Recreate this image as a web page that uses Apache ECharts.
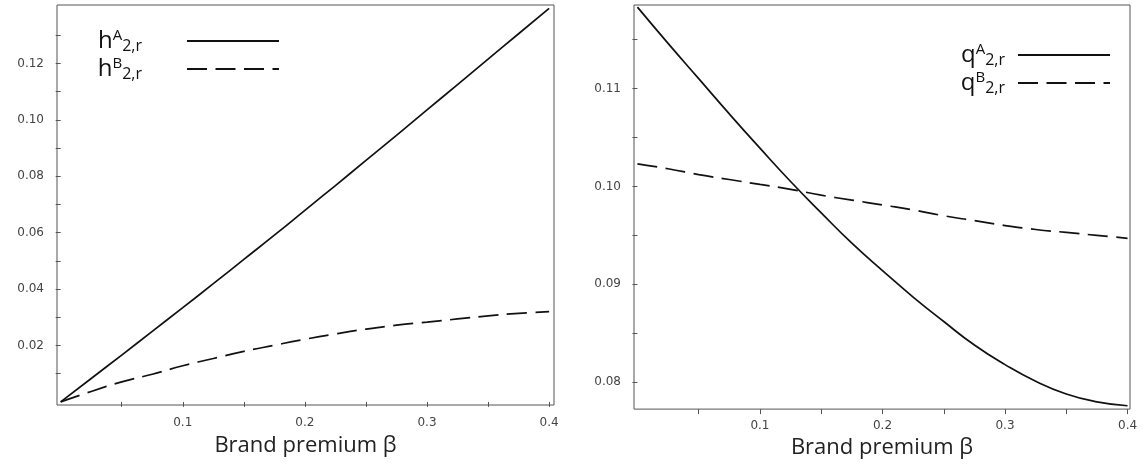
<!DOCTYPE html>
<html lang="en">
<head>
    <meta charset="UTF-8">
    <title>Brand premium</title>
    <style>
        html, body { margin: 0; padding: 0; background: #fff; }
    </style>
</head>
<body>
    <div id="chart" style="width: 1146px;height: 464px"></div>

    <script src="https://cdn.jsdelivr.net/npm/echarts@6.0.0/dist/echarts.min.js"></script>
    <script>
        // beta 取值
        var beta = [0, 0.025, 0.05, 0.075, 0.1, 0.125, 0.15, 0.175, 0.2,
                    0.225, 0.25, 0.275, 0.3, 0.325, 0.35, 0.375, 0.4];

        // 左图
        var hA = [0, 0.0083, 0.0166, 0.025, 0.0334, 0.0419, 0.0505, 0.0591, 0.0679,
                  0.0767, 0.0856, 0.0945, 0.1035, 0.1125, 0.1215, 0.1305, 0.1395];
        var hB = [0, 0.0037, 0.0071, 0.0098, 0.0128, 0.0154, 0.0179, 0.0201, 0.0222,
                  0.0241, 0.0258, 0.0272, 0.0283, 0.0294, 0.0305, 0.0314, 0.0320];

        // 右图
        var qA = [0.1183, 0.1146, 0.1110, 0.1074, 0.1039, 0.1005, 0.0973, 0.0942, 0.0914,
                  0.0887, 0.0862, 0.0838, 0.0818, 0.0801, 0.0788, 0.0780, 0.0776];
        var qB = [0.1023, 0.1018, 0.1012, 0.1007, 0.1002, 0.0997, 0.0991, 0.0986, 0.0981,
                  0.0976, 0.0970, 0.0965, 0.0960, 0.0956, 0.0953, 0.0950, 0.0947];

        // 刻度
        var xTicks = [0.05, 0.1, 0.15, 0.2, 0.25, 0.3, 0.35, 0.4];
        var xLabels = [0.1, 0.2, 0.3, 0.4];
        var hTicks = [0.01, 0.02, 0.03, 0.04, 0.05, 0.06, 0.07, 0.08, 0.09, 0.1, 0.11, 0.12, 0.13];
        var hLabels = [0.02, 0.04, 0.06, 0.08, 0.1, 0.12];
        var qTicks = [0.08, 0.085, 0.09, 0.095, 0.1, 0.105, 0.11, 0.115];
        var qLabels = [0.08, 0.09, 0.1, 0.11];

        var legendText = {
            hA: '{b|h}{sup|A}{sub|2,r}{padL|}',
            hB: '{b|h}{sup|B}{sub|2,r}{padL|}',
            qA: '{b|q}{sup|A}{sub|2,r}{padR|}',
            qB: '{b|q}{sup|B}{sub|2,r}{padR|}'
        };

        function pairs(ys) {
            return beta.map(function (b, i) { return [b, ys[i]]; });
        }

        var myChart = echarts.init(document.getElementById('chart'));

        var tickLabel = {
            fontFamily: 'DejaVu Sans',
            fontSize: 12,
            color: '#444'
        };
        var legendRich = {
            b: { fontFamily: 'Open Sans', fontSize: 24, color: '#111', lineHeight: 26 },
            sup: { fontFamily: 'Open Sans', fontSize: 15, color: '#111', lineHeight: 13, verticalAlign: 'top' },
            sub: { fontFamily: 'Open Sans', fontSize: 16, color: '#111', lineHeight: 13, verticalAlign: 'bottom' },
            padL: { width: 40 },
            padR: { width: 8 }
        };

        function xAxisOf(gridIndex, min, max, gap, margin) {
            return {
                type: 'value',
                gridIndex: gridIndex,
                min: min,
                max: max,
                name: 'Brand premium β',
                nameLocation: 'middle',
                nameGap: gap,
                nameTextStyle: { fontFamily: 'Open Sans', fontSize: 22, color: '#222' },
                axisLine: { show: false },
                axisTick: { show: true, length: 5, customValues: xTicks, lineStyle: { color: '#555' } },
                axisLabel: Object.assign({ customValues: xLabels, margin: margin, formatter: function (v) { return v.toFixed(1); } }, tickLabel),
                splitLine: { show: false }
            };
        }

        function yAxisOf(gridIndex, min, max, ticks, labels) {
            return {
                type: 'value',
                gridIndex: gridIndex,
                min: min,
                max: max,
                axisLine: { show: false },
                axisTick: { show: true, length: 5, customValues: ticks, lineStyle: { color: '#555' } },
                axisLabel: Object.assign({ customValues: labels, margin: 13, formatter: function (v) { return v.toFixed(2); } }, tickLabel),
                splitLine: { show: false }
            };
        }

        function lineOf(name, xi, data, dashed) {
            return {
                name: name,
                type: 'line',
                xAxisIndex: xi,
                yAxisIndex: xi,
                smooth: true,
                symbol: 'none',
                data: pairs(data),
                lineStyle: { color: '#111', width: 1.7, type: dashed ? [20, 8.5] : 'solid' },
                itemStyle: { color: '#111' }
            };
        }

        function legendOf(names, right, top) {
            return {
                data: names,
                orient: 'vertical',
                right: right,
                top: top,
                padding: 0,
                align: 'right',
                itemWidth: 92,
                itemHeight: 14,
                itemGap: 2,
                selectedMode: false,
                itemStyle: { opacity: 0 },
                formatter: function (name) { return legendText[name]; },
                textStyle: { rich: legendRich }
            };
        }

        myChart.setOption({
            animation: false,
            grid: [
                { left: 57, top: 5, width: 497, height: 400, show: true, borderColor: '#555', borderWidth: 1 },
                { left: 634, top: 5, width: 496, height: 406, show: true, borderColor: '#555', borderWidth: 1 }
            ],
            legend: [
                legendOf(['hA', 'hB'], 866, 28),
                legendOf(['qA', 'qB'], 35, 42)
            ],
            xAxis: [
                xAxisOf(0, -0.003, 0.404, 30, 12),
                xAxisOf(1, -0.0028, 0.402, 24, 11)
            ],
            yAxis: [
                yAxisOf(0, -0.0011, 0.1407, hTicks, hLabels),
                yAxisOf(1, 0.07726, 0.11852, qTicks, qLabels)
            ],
            series: [
                lineOf('hA', 0, hA, false),
                lineOf('hB', 0, hB, true),
                lineOf('qA', 1, qA, false),
                lineOf('qB', 1, qB, true)
            ]
        });
    </script>
</body>
</html>
